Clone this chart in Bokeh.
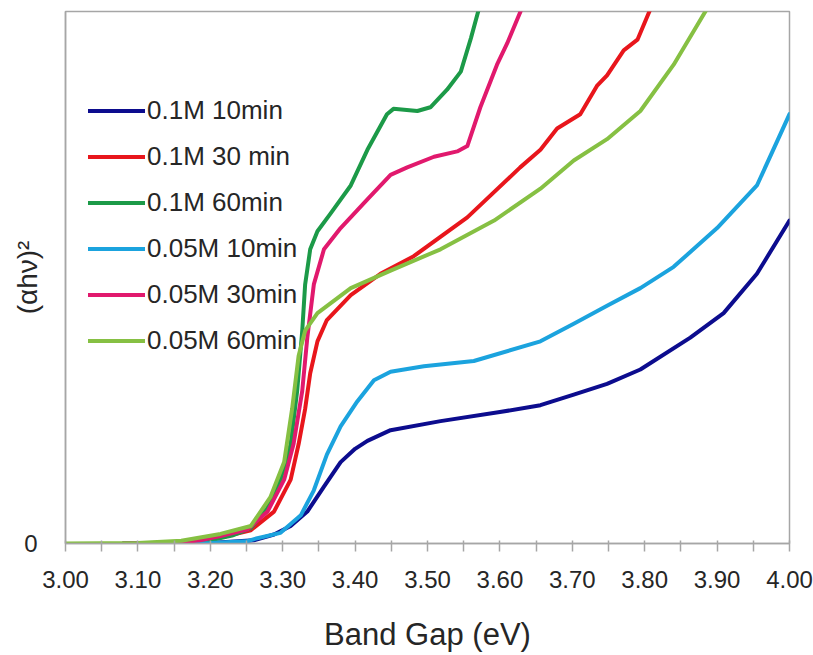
from bokeh.plotting import figure
from bokeh.models import FixedTicker, NumeralTickFormatter, Range1d
from bokeh.embed import file_html
from bokeh.resources import INLINE

# ---- data ----
series_names = ["0.1M 10min", "0.1M 30 min", "0.1M 60min",
                "0.05M 10min", "0.05M 30min", "0.05M 60min"]
series_colors = ["#0c0c8e", "#e8161c", "#1c9a48", "#1ba3de", "#e1196d", "#86c043"]

x_01M_10 = [3.08, 3.20, 3.26, 3.288, 3.311, 3.334, 3.357, 3.380, 3.400, 3.417, 3.449,
            3.518, 3.600, 3.656, 3.702, 3.748, 3.794, 3.863, 3.909, 3.955, 4.00]
y_01M_10 = [0.0, 0.1, 0.6, 1.7, 3.3, 6.0, 10.7, 15.3, 17.8, 19.3, 21.3,
            23.0, 24.7, 26.0, 28.0, 30.0, 32.7, 38.7, 43.3, 50.7, 60.7]

x_01M_30 = [3.08, 3.15, 3.19, 3.22, 3.256, 3.288, 3.311, 3.322, 3.331, 3.338,
            3.348, 3.361, 3.394, 3.435, 3.481, 3.555, 3.628, 3.656, 3.679, 3.711,
            3.734, 3.748, 3.771, 3.790, 3.808]
y_01M_30 = [0.0, 0.1, 0.5, 1.3, 2.5, 6.0, 12.0, 18.7, 25.3, 32.0,
            38.0, 42.0, 46.7, 50.7, 54.0, 61.3, 70.7, 74.0, 78.0, 80.7,
            86.0, 88.0, 92.7, 94.7, 100.5]

x_01M_60 = [3.08, 3.15, 3.20, 3.23, 3.256, 3.279, 3.297, 3.311, 3.320, 3.327,
            3.331, 3.338, 3.348, 3.366, 3.394, 3.417, 3.444, 3.453, 3.486, 3.504,
            3.527, 3.546, 3.560, 3.571]
y_01M_60 = [0.0, 0.2, 0.6, 1.5, 2.9, 6.7, 12.0, 18.7, 28.7, 40.0,
            48.7, 55.3, 58.7, 62.0, 67.3, 74.0, 80.7, 81.7, 81.3, 82.0,
            85.3, 88.7, 95.0, 100.5]

x_005M_10 = [3.08, 3.20, 3.25, 3.265, 3.297, 3.325, 3.343, 3.361, 3.380, 3.403,
             3.426, 3.449, 3.495, 3.564, 3.656, 3.702, 3.748, 3.794, 3.840, 3.900,
             3.955, 4.00]
y_005M_10 = [0.0, 0.1, 0.4, 1.0, 2.0, 5.3, 10.0, 16.7, 22.0, 26.7,
             30.7, 32.3, 33.3, 34.3, 38.0, 41.3, 44.7, 48.0, 52.0, 59.3,
             67.3, 80.7]

x_005M_30 = [3.08, 3.15, 3.186, 3.214, 3.251, 3.279, 3.302, 3.315, 3.327, 3.334,
             3.343, 3.357, 3.380, 3.417, 3.449, 3.472, 3.509, 3.541, 3.555, 3.573,
             3.596, 3.610, 3.630]
y_005M_30 = [0.0, 0.1, 0.6, 1.4, 2.6, 6.0, 12.0, 18.7, 28.7, 38.7,
             48.7, 55.3, 59.3, 64.7, 69.3, 70.7, 72.7, 73.7, 74.7, 82.0,
             90.0, 94.0, 100.5]

x_005M_60 = [3.00, 3.10, 3.16, 3.214, 3.256, 3.283, 3.302, 3.313, 3.322, 3.331,
             3.348, 3.394, 3.449, 3.518, 3.592, 3.656, 3.702, 3.748, 3.794, 3.840,
             3.886]
y_005M_60 = [0.0, 0.1, 0.5, 1.8, 3.3, 8.7, 15.3, 25.3, 35.3, 40.0,
             43.3, 48.0, 51.3, 55.3, 60.7, 66.7, 72.0, 76.0, 81.3, 90.0,
             100.5]

series_x = [x_01M_10, x_01M_30, x_01M_60, x_005M_10, x_005M_30, x_005M_60]
series_y = [y_01M_10, y_01M_30, y_01M_60, y_005M_10, y_005M_30, y_005M_60]

x_ticks = [3.0, 3.1, 3.2, 3.3, 3.4, 3.5, 3.6, 3.7, 3.8, 3.9, 4.0]
x_minor_ticks = [3.05, 3.15, 3.25, 3.35, 3.45, 3.55, 3.65, 3.75, 3.85, 3.95]
y_ticks = [0]

FONT = "Liberation Sans"
TEXT = "#262626"
GREY = "#a6a6a6"

p = figure(width=813, height=655, output_backend="svg", toolbar_location=None,
           x_range=Range1d(3.0, 4.0), y_range=Range1d(0, 100),
           min_border_left=65, min_border_right=24, min_border_top=11,
           min_border_bottom=112)
p.background_fill_color = "white"
p.border_fill_color = "white"
p.outline_line_color = GREY
p.outline_line_width = 1.5
p.xgrid.visible = False
p.ygrid.visible = False

for xs, ys, name, col in zip(series_x, series_y, series_names, series_colors):
    p.line(xs, ys, line_color=col, line_width=4, line_join="round",
           line_cap="round", legend_label=name)

# x axis
xa = p.xaxis[0]
xa.ticker = FixedTicker(ticks=x_ticks, minor_ticks=x_minor_ticks)
xa.formatter = NumeralTickFormatter(format="0.00")
xa.axis_line_color = GREY
xa.axis_line_width = 1.5
xa.major_tick_line_color = GREY
xa.minor_tick_line_color = GREY
xa.major_tick_line_width = 1.5
xa.minor_tick_line_width = 1.5
xa.major_tick_in = 3
xa.major_tick_out = 8
xa.minor_tick_in = 3
xa.minor_tick_out = 8
xa.major_label_text_font = FONT
xa.major_label_text_font_size = "24px"
xa.major_label_text_color = TEXT
xa.major_label_standoff = 19
xa.axis_label = "Band Gap (eV)"
xa.axis_label_text_font = FONT
xa.axis_label_text_font_size = "31px"
xa.axis_label_text_font_style = "normal"
xa.axis_label_text_color = TEXT
xa.axis_label_standoff = 26

# y axis
ya = p.yaxis[0]
ya.ticker = FixedTicker(ticks=y_ticks, minor_ticks=[])
ya.axis_line_color = GREY
ya.axis_line_width = 1.5
ya.major_tick_in = 0
ya.major_tick_out = 0
ya.minor_tick_in = 0
ya.minor_tick_out = 0
ya.major_label_text_font = FONT
ya.major_label_text_font_size = "24px"
ya.major_label_text_color = TEXT
ya.major_label_standoff = 28
ya.axis_label = "(αhν)²"
ya.axis_label_text_font = FONT
ya.axis_label_text_font_size = "28px"
ya.axis_label_text_font_style = "normal"
ya.axis_label_text_color = TEXT
ya.axis_label_standoff = -22

# legend
lg = p.legend[0]
lg.location = (23, 187)
lg.margin = 0
lg.padding = 0
lg.border_line_alpha = 0
lg.background_fill_alpha = 0
lg.glyph_width = 57
lg.glyph_height = 31
lg.label_height = 31
lg.spacing = 15
lg.label_standoff = 2
lg.label_text_font = FONT
lg.label_text_font_size = "26px"
lg.label_text_color = TEXT

open("out.html", "w").write(file_html(p, INLINE))
